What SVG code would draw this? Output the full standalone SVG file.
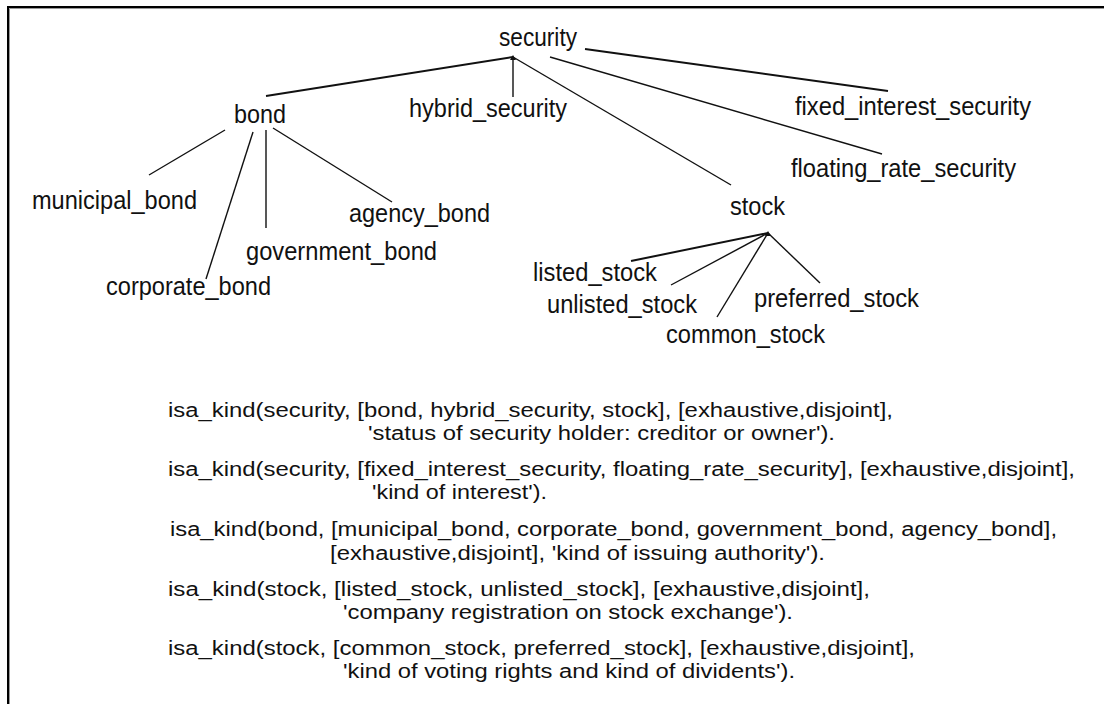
<svg xmlns="http://www.w3.org/2000/svg" width="1104" height="704" viewBox="0 0 1104 704">
<style>
.lbl{font-family:"Liberation Sans",Arial,sans-serif;font-size:25px;fill:#111;}
.txt{font-family:"Liberation Sans",Arial,sans-serif;font-size:20px;fill:#111;}
.ln{stroke:#111;stroke-width:1.4;fill:none;}
.lnb{stroke:#111;stroke-width:2;fill:none;}
</style>
<rect width="1104" height="704" fill="#fff"/>
<g id="frame">
<path d="M8,704 V7 H1104" stroke="#000" stroke-width="2" fill="none"/>
<path d="M9.5,704 V8.5 H1104" stroke="#999" stroke-width="1" fill="none"/>
</g>
<g id="connectors">
<line class="lnb" x1="513" y1="57" x2="266" y2="96"/>
<line class="ln" x1="513" y1="57" x2="513" y2="97"/>
<line class="ln" x1="513" y1="57" x2="731" y2="185"/>
<line class="lnb" x1="585" y1="49" x2="888" y2="91"/>
<line class="ln" x1="550" y1="57" x2="882" y2="154"/>
<line class="ln" x1="225" y1="130" x2="149" y2="175"/>
<line class="ln" x1="253" y1="132" x2="206" y2="279"/>
<line class="ln" x1="266" y1="130" x2="266" y2="228"/>
<line class="ln" x1="273" y1="128" x2="392" y2="202"/>
<line class="lnb" x1="768" y1="233" x2="631" y2="261"/>
<line class="ln" x1="768" y1="233" x2="671" y2="285"/>
<line class="ln" x1="768" y1="233" x2="717" y2="317"/>
<line class="ln" x1="768" y1="233" x2="820" y2="283"/>
<polygon points="513,55 510,60 516,60" fill="#111"/>
<polygon points="768,231 765,236 771,236" fill="#111"/>
</g>
<g id="n-security"><text class="lbl" x="499" y="46" textLength="78" lengthAdjust="spacingAndGlyphs">security</text></g>
<g id="n-bond"><text class="lbl" x="234" y="123" textLength="52" lengthAdjust="spacingAndGlyphs">bond</text></g>
<g id="n-hybrid_security"><text class="lbl" x="409" y="117" textLength="158" lengthAdjust="spacingAndGlyphs">hybrid_security</text></g>
<g id="n-fixed_interest_security"><text class="lbl" x="795" y="115" textLength="236" lengthAdjust="spacingAndGlyphs">fixed_interest_security</text></g>
<g id="n-floating_rate_security"><text class="lbl" x="791" y="177" textLength="225" lengthAdjust="spacingAndGlyphs">floating_rate_security</text></g>
<g id="n-municipal_bond"><text class="lbl" x="32" y="209" textLength="165" lengthAdjust="spacingAndGlyphs">municipal_bond</text></g>
<g id="n-agency_bond"><text class="lbl" x="349" y="222" textLength="141" lengthAdjust="spacingAndGlyphs">agency_bond</text></g>
<g id="n-government_bond"><text class="lbl" x="246" y="260" textLength="191" lengthAdjust="spacingAndGlyphs">government_bond</text></g>
<g id="n-corporate_bond"><text class="lbl" x="106" y="295" textLength="165" lengthAdjust="spacingAndGlyphs">corporate_bond</text></g>
<g id="n-stock"><text class="lbl" x="730" y="215" textLength="55" lengthAdjust="spacingAndGlyphs">stock</text></g>
<g id="n-listed_stock"><text class="lbl" x="533" y="281" textLength="124" lengthAdjust="spacingAndGlyphs">listed_stock</text></g>
<g id="n-unlisted_stock"><text class="lbl" x="547" y="313" textLength="150" lengthAdjust="spacingAndGlyphs">unlisted_stock</text></g>
<g id="n-preferred_stock"><text class="lbl" x="754" y="307" textLength="165" lengthAdjust="spacingAndGlyphs">preferred_stock</text></g>
<g id="n-common_stock"><text class="lbl" x="666" y="343" textLength="159" lengthAdjust="spacingAndGlyphs">common_stock</text></g>
<g id="rules">
<text class="txt" x="168" y="417" textLength="725" lengthAdjust="spacingAndGlyphs">isa_kind(security, [bond, hybrid_security, stock], [exhaustive,disjoint],</text>
<text class="txt" x="368" y="440" textLength="467" lengthAdjust="spacingAndGlyphs">'status of security holder: creditor or owner').</text>
<text class="txt" x="168" y="476" textLength="907" lengthAdjust="spacingAndGlyphs">isa_kind(security, [fixed_interest_security, floating_rate_security], [exhaustive,disjoint],</text>
<text class="txt" x="372" y="499" textLength="175" lengthAdjust="spacingAndGlyphs">'kind of interest').</text>
<text class="txt" x="170" y="536" textLength="887" lengthAdjust="spacingAndGlyphs">isa_kind(bond, [municipal_bond, corporate_bond, government_bond, agency_bond],</text>
<text class="txt" x="330" y="560" textLength="495" lengthAdjust="spacingAndGlyphs">[exhaustive,disjoint], 'kind of issuing authority').</text>
<text class="txt" x="168" y="596" textLength="702" lengthAdjust="spacingAndGlyphs">isa_kind(stock, [listed_stock, unlisted_stock], [exhaustive,disjoint],</text>
<text class="txt" x="343" y="619" textLength="450" lengthAdjust="spacingAndGlyphs">'company registration on stock exchange').</text>
<text class="txt" x="168" y="655" textLength="747" lengthAdjust="spacingAndGlyphs">isa_kind(stock, [common_stock, preferred_stock], [exhaustive,disjoint],</text>
<text class="txt" x="343" y="678" textLength="452" lengthAdjust="spacingAndGlyphs">'kind of voting rights and kind of dividents').</text>
</g>
</svg>
